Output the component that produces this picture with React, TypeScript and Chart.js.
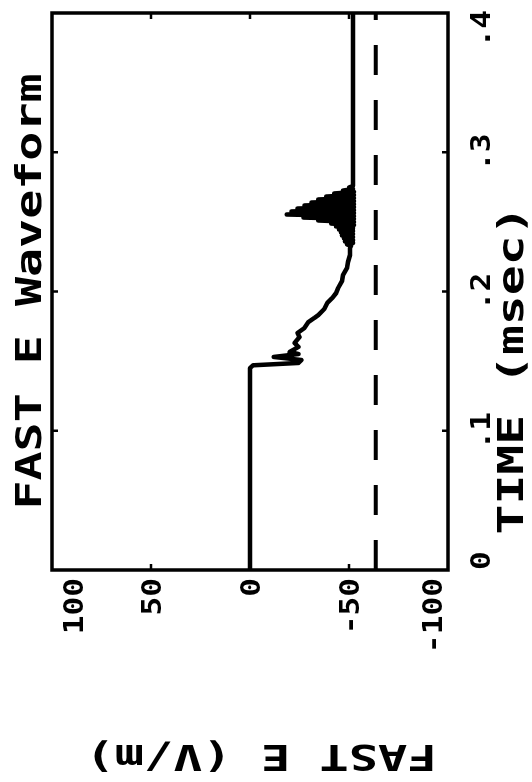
import React, { useEffect, useRef } from 'react';
import { Chart, registerables } from 'chart.js';

Chart.register(...registerables);

// ---- data (time in msec, field in V/m) ----
const timeMs = [
  0, 0.145, 0.147, 0.1487, 0.1508, 0.153, 0.1551, 0.1566, 0.1602, 0.163,
  0.1673, 0.1702, 0.1738, 0.1781, 0.181, 0.1831, 0.1874, 0.1917, 0.1953, 0.1989,
  0.2025, 0.2075, 0.2118, 0.2169, 0.2212, 0.2262, 0.2312,
  0.2327, 0.2338, 0.2348, 0.2359, 0.237, 0.2381, 0.2391, 0.2402, 0.2413, 0.2424,
  0.2434, 0.2445, 0.2456, 0.2467, 0.2478, 0.2488, 0.2499, 0.251, 0.2521, 0.2531,
  0.2542, 0.2553, 0.2564, 0.2575, 0.2585, 0.2596, 0.2607, 0.2618, 0.2628, 0.2639,
  0.265, 0.2661, 0.2671, 0.2682, 0.2693, 0.2704, 0.2715, 0.2725, 0.2736, 0.2747,
  0.2758, 0.4,
];
const fieldVm = [
  0, 0, -1.5, -24.5, -26, -12, -24.5, -20, -24.5, -22.5,
  -25, -24, -27.5, -29.5, -32.5, -34.5, -37.5, -39, -41.5, -43.5,
  -44.5, -46.5, -47, -49, -49.5, -50.5, -50.5,
  -51, -49, -52, -48, -52, -47.5, -52, -46.5, -52, -46,
  -52, -45, -52, -43.5, -52.5, -41, -52.5, -34.5, -52.5, -27,
  -52.5, -18.5, -52.5, -21, -52.5, -24, -52.5, -27.5, -52.5, -31,
  -52.5, -34.5, -52.5, -38.5, -52.5, -42.5, -52.5, -47, -52, -50,
  -52, -52,
];
const refTime = [0, 0.4];
const refField = [-63.5, -63.5];

const timeTicks = [0, 0.1, 0.2, 0.3, 0.4];
const timeTickLabels = ['0', '.1', '.2', '.3', '.4'];
const fieldTicks = [100, 50, 0, -50, -100];
const fieldTickLabels = ['100', '50', '0', '-50', '-100'];

const chartTitle = 'FAST E Waveform';
const xTitle = 'TIME (msec)';
const yTitle = 'FAST E (V/m)';

// ---- layout (chart is drawn landscape, then turned a quarter turn) ----
const W = 782;
const H = 532;
const FONT = '"DejaVu Sans Mono", "Liberation Mono", monospace';

function txt(
  ctx: CanvasRenderingContext2D,
  s: string,
  x: number,
  y: number,
  size: number,
  stretch: number,
  align: CanvasTextAlign,
  rot = 0
) {
  ctx.save();
  ctx.translate(x, y);
  if (rot) ctx.rotate(rot);
  ctx.scale(stretch, 1);
  ctx.font = `bold ${size}px ${FONT}`;
  ctx.textAlign = align;
  ctx.textBaseline = 'alphabetic';
  ctx.fillStyle = '#000';
  ctx.fillText(s, 0, 0);
  ctx.restore();
}

const framePlugin = {
  id: 'frame',
  afterDatasetsDraw(chart: any) {
    const { ctx, chartArea: a, scales } = chart;
    const xs = scales.x;
    const ys = scales.y;
    ctx.save();
    ctx.strokeStyle = '#000';
    ctx.lineWidth = 3.5;
    ctx.strokeRect(a.left, a.top, a.right - a.left, a.bottom - a.top);
    ctx.lineWidth = 2.5;
    ctx.beginPath();
    timeTicks.forEach((v) => {
      if (v <= xs.min || v >= xs.max) return;
      const p = xs.getPixelForValue(v);
      ctx.moveTo(p, a.top);
      ctx.lineTo(p, a.top + 6);
      ctx.moveTo(p, a.bottom);
      ctx.lineTo(p, a.bottom - 6);
    });
    fieldTicks.forEach((v) => {
      if (v <= ys.min || v >= ys.max) return;
      const p = ys.getPixelForValue(v);
      ctx.moveTo(a.left, p);
      ctx.lineTo(a.left + 6, p);
      ctx.moveTo(a.right, p);
      ctx.lineTo(a.right - 6, p);
    });
    ctx.stroke();
    ctx.restore();

    // time tick labels (below the frame)
    timeTicks.forEach((v, i) => {
      const p = xs.getPixelForValue(v);
      const last = timeTicks.length - 1;
      const align: CanvasTextAlign = i === 0 ? 'left' : i === last ? 'right' : 'center';
      const x = i === last ? p + 3 : p;
      txt(ctx, timeTickLabels[i], x, a.bottom + 42, 26, 1.2, align);
    });
    // field tick labels (left of the frame)
    fieldTicks.forEach((v, i) => {
      let p = ys.getPixelForValue(v);
      if (i === 0) p += 21;
      if (i === fieldTicks.length - 1) p -= 16;
      txt(ctx, fieldTickLabels[i], a.left - 8, p + 10, 26, 1.2, 'right');
    });

    // titles
    const cx = (a.left + a.right) / 2;
    txt(ctx, chartTitle, cx, 41, 35, 1.38, 'center');
    txt(ctx, xTitle, 412, a.bottom + 75, 36, 1.38, 'center');
    txt(ctx, yTitle, 37, (a.top + a.bottom) / 2 + 11, 36, 1.35, 'center', -Math.PI / 2);
  },
};

export default function App() {
  const ref = useRef<HTMLCanvasElement>(null);
  useEffect(() => {
    const canvas = ref.current;
    if (!canvas) return;
    const chart = new Chart(canvas, {
      type: 'scatter',
      data: {
        datasets: [
          {
            data: timeMs.map((t, i) => ({ x: t, y: fieldVm[i] })),
            showLine: true,
            borderColor: '#000',
            borderWidth: 4.5,
            pointRadius: 0,
            tension: 0,
            borderJoinStyle: 'round',
            borderCapStyle: 'round',
          },
          {
            data: refTime.map((t, i) => ({ x: t, y: refField[i] })),
            showLine: true,
            borderColor: '#000',
            borderWidth: 4,
            borderDash: [30, 25],
            pointRadius: 0,
          },
        ],
      },
      options: {
        responsive: false,
        animation: false,
        devicePixelRatio: 1,
        events: [],
        layout: { padding: { left: 212, right: 13, top: 52, bottom: 84 } },
        plugins: {
          legend: { display: false },
          title: { display: false },
          tooltip: { enabled: false },
        },
        scales: {
          x: { type: 'linear', min: 0, max: 0.4, display: false },
          y: { type: 'linear', min: -100, max: 100, display: false },
        },
      },
      plugins: [framePlugin],
    } as any);
    return () => chart.destroy();
  }, []);

  return (
    <div
      style={{
        position: 'fixed',
        left: 0,
        top: 0,
        width: W,
        height: H,
        transformOrigin: '0 0',
        transform: `translate(0px, ${W}px) rotate(-90deg)`,
        background: '#fff',
      }}
    >
      <canvas ref={ref} width={W} height={H} style={{ display: 'block', width: W, height: H }} />
    </div>
  );
}
